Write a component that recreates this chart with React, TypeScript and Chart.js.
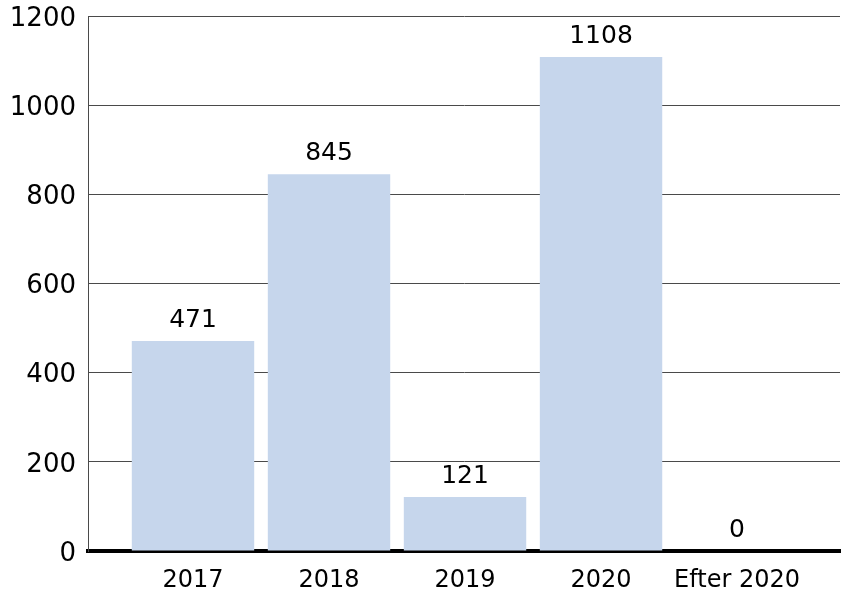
import React, { useEffect, useRef } from "react";
import { Chart, registerables } from "chart.js";

Chart.register(...registerables);

const categories = ["2017", "2018", "2019", "2020", "Efter 2020"];
const values = [471, 845, 121, 1108, 0];
const yTicks = [0, 200, 400, 600, 800, 1000, 1200];

const FONT = "'DejaVu Sans', sans-serif";

const labelPlugin = {
  id: "barLabels",
  afterDatasetsDraw(chart: any) {
    const ctx = chart.ctx;
    const meta = chart.getDatasetMeta(0);
    ctx.save();
    ctx.font = `25px ${FONT}`;
    ctx.fillStyle = "#000";
    ctx.textAlign = "center";
    ctx.textBaseline = "alphabetic";
    meta.data.forEach((el: any, i: number) => {
      ctx.fillText(String(values[i]), el.x, el.y - 14);
    });
    ctx.restore();
  },
};

export default function App() {
  const ref = useRef<HTMLCanvasElement>(null);
  useEffect(() => {
    document.body.style.margin = "0";
    const chart = new Chart(ref.current!, {
      type: "bar",
      data: {
        datasets: [
          {
            data: values.map((v, i) => ({ x: i, y: v })),
            backgroundColor: "#c6d6ec",
            borderWidth: 0,
            barPercentage: 0.9,
            categoryPercentage: 1,
          },
        ],
      },
      options: {
        animation: false,
        responsive: false,
        maintainAspectRatio: false,
        layout: { padding: { top: 16, right: 13, left: 0, bottom: 0 } },
        plugins: { legend: { display: false }, tooltip: { enabled: false } },
        scales: {
          x: {
            type: "linear",
            offset: false,
            min: -0.772,
            max: 4.757,
            z: 1,
            afterBuildTicks: (scale: any) => {
              scale.ticks = categories.map((_, i) => ({ value: i }));
            },
            afterFit: (scale: any) => {
              scale.height = 52;
              scale.paddingLeft = 0;
              scale.paddingRight = 0;
            },
            grid: { display: false, drawTicks: false, offset: false },
            border: { display: true, color: "#000", width: 4 },
            ticks: {
              autoSkip: false,
              maxRotation: 0,
              padding: 15,
              color: "#000",
              font: { family: FONT, size: 24 },
              callback: (v: any) => categories[v] ?? "",
            },
          },
          y: {
            min: 0,
            max: 1200,
            afterBuildTicks: (scale: any) => {
              scale.ticks = yTicks.map((v) => ({ value: v }));
            },
            afterFit: (scale: any) => {
              scale.width = 88;
              scale.paddingTop = 0;
              scale.paddingBottom = 0;
            },
            grid: { color: "#4a4a4a", lineWidth: 1, drawTicks: false },
            border: { display: true, color: "#4a4a4a", width: 1 },
            ticks: {
              padding: 12,
              labelOffset: 3,
              color: "#000",
              font: { family: FONT, size: 26 },
              callback: (v: any) => String(v),
            },
          },
        },
      },
      plugins: [labelPlugin],
    });
    return () => chart.destroy();
  }, []);
  return (
    <div style={{ width: 853, height: 603 }}>
      <canvas ref={ref} width={853} height={603} />
    </div>
  );
}
